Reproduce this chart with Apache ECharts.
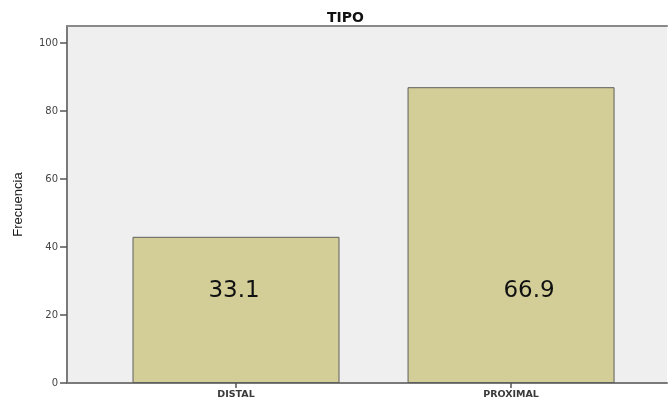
<!DOCTYPE html>
<html>
<head>
<meta charset="utf-8">
<script src="https://cdn.jsdelivr.net/npm/echarts@6/dist/echarts.min.js"></script>
<style>
  html, body { margin: 0; padding: 0; background: #ffffff; }
  #chart { width: 668px; height: 403px; }
</style>
</head>
<body>
<div id="chart"></div>
<script>
// Category names and counts per type
const categories = ['DISTAL', 'PROXIMAL'];
const frequencies = [43, 87];
const yTicks = [0, 20, 40, 60, 80, 100];

// Percentage of the total, shown inside each bar
const total = frequencies.reduce((a, b) => a + b, 0);
const percentages = frequencies.map(v => (v / total * 100).toFixed(1));

// Horizontal nudges of the in-bar labels (px)
const labelOffsets = [[-2, 0], [18, 0]];

const catIndex = categories.map((_, i) => i);

const chart = echarts.init(document.getElementById('chart'), null, { renderer: 'canvas' });

chart.setOption({
  animation: false,
  backgroundColor: '#ffffff',
  title: {
    text: 'TIPO',
    left: 322,
    top: 6,
    textStyle: { fontFamily: 'DejaVu Sans', fontWeight: 'bold', fontSize: 14, color: '#111111' }
  },
  grid: {
    left: 67, right: 1, top: 26, bottom: 20,
    show: true, backgroundColor: '#efefef', borderWidth: 0
  },
  xAxis: [{
    type: 'value',
    min: -0.6145,
    max: 1.567,
    splitLine: { show: false },
    axisLine: { show: true, onZero: false, lineStyle: { color: '#7a7a7a', width: 2 } },
    axisTick: { show: true, customValues: catIndex, length: 5, lineStyle: { color: '#555555', width: 1.5 } },
    axisLabel: {
      customValues: catIndex,
      formatter: v => categories[Math.round(v)] || '',
      margin: 7,
      fontFamily: 'DejaVu Sans', fontSize: 9.5, fontWeight: 'bold', color: '#3a3a3a'
    }
  }, {
    // top frame line of the plot area
    type: 'value',
    position: 'top',
    min: -0.6145,
    max: 1.567,
    splitLine: { show: false },
    axisLine: { show: true, onZero: false, lineStyle: { color: '#8a8a8a', width: 2 } },
    axisTick: { show: false },
    axisLabel: { show: false }
  }],
  yAxis: {
    type: 'value',
    min: 0,
    max: 105,
    interval: 20,
    name: 'Frecuencia',
    nameLocation: 'middle',
    nameGap: 42,
    nameRotate: 90,
    nameTextStyle: { fontFamily: 'Liberation Sans', fontSize: 13, color: '#1a1a1a' },
    splitLine: { show: false },
    axisLine: { show: true, onZero: false, lineStyle: { color: '#7a7a7a', width: 2 } },
    axisTick: { show: true, customValues: yTicks, length: 7, lineStyle: { color: '#555555', width: 1.5 } },
    axisLabel: {
      customValues: yTicks,
      margin: 9,
      fontFamily: 'DejaVu Sans', fontSize: 10, color: '#444444'
    }
  },
  series: [{
    type: 'bar',
    xAxisIndex: 0,
    barWidth: 207,
    data: frequencies.map((v, i) => ({
      value: [i, v],
      label: { offset: labelOffsets[i] }
    })),
    itemStyle: { color: '#d3ce98', borderColor: '#5e5e5e', borderWidth: 1 },
    label: {
      show: true,
      position: 'insideBottom',
      distance: 80,
      formatter: p => percentages[p.dataIndex],
      fontFamily: 'DejaVu Sans', fontSize: 23, lineHeight: 24, color: '#111111'
    }
  }]
});
</script>
</body>
</html>
